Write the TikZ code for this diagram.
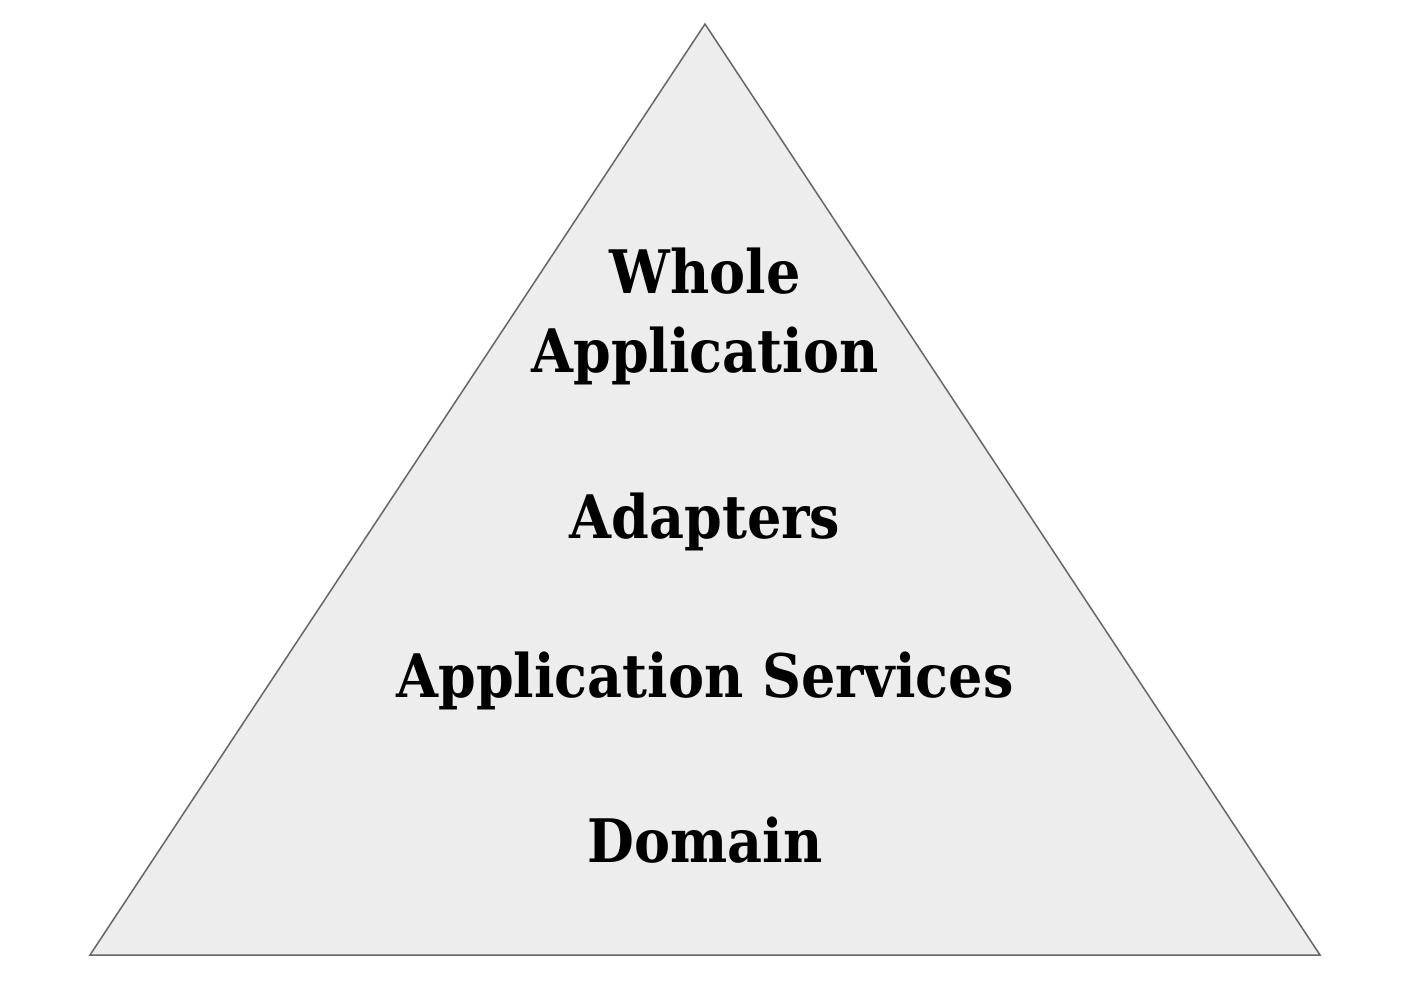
\documentclass[tikz,border=0pt]{standalone}
\usepackage{fontspec}
\setmainfont{DejaVu Serif Condensed}
\begin{document}
\begin{tikzpicture}[x=1pt,y=-1pt,
  lbl/.style={anchor=base,inner sep=0pt,font=\fontsize{60}{72}\selectfont\bfseries,text=black}]
\useasboundingbox (0,0) rectangle (1420,982);
\fill[white] (0,0) rectangle (1420,982);
\coordinate (top) at (705,24);
\coordinate (bl) at (90,955);
\coordinate (br) at (1320,955);
\draw[fill=black!7,draw=black!60,line width=1.5pt,line join=miter] (top) -- (br) -- (bl) -- cycle;
\node[lbl] (whole) at (705,293) {Whole};
\node[lbl] (app) at (705,372) {Application};
\node[lbl] (adapt) at (705,538) {Adapters};
\node[lbl] (serv) at (705,697) {Application Services};
\node[lbl] (dom) at (705,862) {Domain};
\end{tikzpicture}
\end{document}
